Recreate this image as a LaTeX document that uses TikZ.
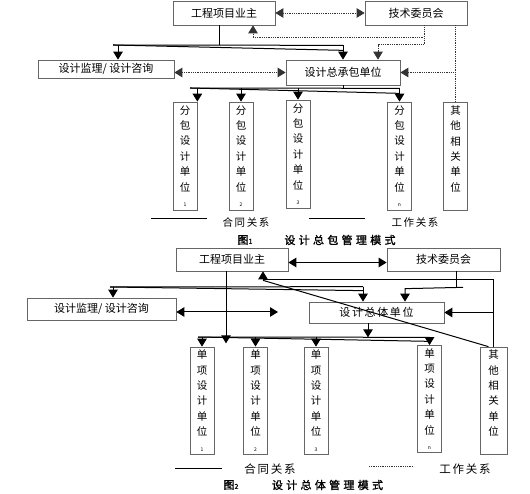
\documentclass[tikz,border=0pt]{standalone}
\usepackage{fontspec}
\setmainfont{Noto Sans CJK SC}
\newfontfamily\capfont[LetterSpace=30,FakeBold=1.5]{Noto Sans CJK SC}
\newfontfamily\legfont[LetterSpace=15]{Noto Sans CJK SC}
\usetikzlibrary{arrows.meta,calc}

\begin{document}
\begin{tikzpicture}[
  x=1pt, y=-1pt,
  >={Triangle[length=8pt,width=9.5pt]},
  box/.style={draw=black!60, line width=0.7pt, inner sep=0pt,
              font=\fontsize{11}{13}\selectfont},
  vbox/.style={draw=black!60, line width=0.7pt, inner sep=0pt, align=center,
               minimum width=24pt, minimum height=108pt,
               font=\fontsize{10.5}{15.4}\selectfont},
  ln/.style={line width=1pt},
  ar/.style={ln, ->},
  ar2/.style={ln, <->},
  dl/.style={line width=0.8pt, draw=black!80, dash pattern=on 1pt off 0.8pt},
  dar/.style={dl, ->},
  dar2/.style={dl, <->},
  legtxt/.style={font=\legfont\fontsize{10.5}{12}\selectfont},
  captxt/.style={font=\capfont\fontsize{11}{13}\selectfont},
]
\useasboundingbox (0,0) rectangle (530,494);

%% ---------- figure 1 ----------
\node[box, minimum width=102pt, minimum height=24pt] (owner1) at (224,13) {工程项目业主};
\node[box, minimum width=102pt, minimum height=24pt] (tech1) at (416,13) {技术委员会};
\node[box, minimum width=136pt, minimum height=18pt] (sup1) at (106,69) {设计监理/ 设计咨询};
\node[box, minimum width=114pt, minimum height=25pt] (gc1) at (343,72.5) {设计总承包单位};

\node[vbox] (sub11) at (185,156) {分\\包\\设\\计\\单\\位\\{\tiny 1}};
\node[vbox] (sub12) at (241,156) {分\\包\\设\\计\\单\\位\\{\tiny 2}};
\node[vbox] (sub13) at (298,154) {分\\包\\设\\计\\单\\位\\{\tiny 3}};
\node[vbox] (sub1n) at (399.5,156) {分\\包\\设\\计\\单\\位\\{\tiny n}};
\node[vbox] (oth1) at (455.5,156) {其\\他\\相\\关\\单\\位\\{\tiny\phantom{1}}};

% dotted links
\draw[dar2] (owner1.east) -- (tech1.west);
\coordinate (t1a) at ($(tech1.south)+(8,0)$);
\draw[dar] (t1a) |- ($(owner1.south)+(29,12)$) -- ($(owner1.south)+(29,0)$);
\draw[dar] (t1a) |- ($(gc1.north)+(35,-15)$) -- ($(gc1.north)+(35,0)$);
\draw[dl] (oth1.north |- tech1.south) -- (oth1.north);
\draw[dar] (oth1.north |- gc1.east) -- (gc1.east);
\draw[dar2] (gc1.west -| sup1.east) -- (gc1.west);

% contract links
\coordinate (j1) at ($(owner1.south)+(-5,20)$);
\coordinate (b1l) at (113,45);
\coordinate (b1r) at (gc1.north |- j1);
\draw[ln] ($(owner1.south)+(-5,0)$) -- (j1);
\draw[ln] (b1l) -- (b1r);
\draw[ln] (b1l) -- ($(b1r)+(0,5)$);
\draw[ar] ($(sup1.north)+(12,-15)$) -- ($(sup1.north)+(12,0)$);
\draw[ar] (b1r) -- (gc1.north);

\coordinate (j2) at ($(gc1.south)+(0,3)$);
\coordinate (b2l) at (190,88);
\coordinate (b2r) at (sub1n.north |- j2);
\draw[ln] (gc1.south) -- (j2);
\draw[ln] (b2l) -- (b2r);
\draw[ln] (b2l) -- ($(b2r)+(0,5)$);
\draw[ar] (sub11.north east |- j2) -- (sub11.north east);
\draw[ar] (sub12.north |- j2) -- (sub12.north);
\draw[ar] (sub13.north |- j2) -- (sub13.north);
\draw[ar] (b2r) -- (sub1n.north);

% legend and caption
\draw[ln] (151,219) -- (207,219);
\node[legtxt] (l1a) at (246,223) {合同关系};
\draw[ln] (309,219) -- (365,219);
\node[legtxt] (l1b) at (415,223) {工作关系};
\node[captxt] (c1a) at (245,240) {图{\fontsize{7}{8}\selectfont 1}};
\node[captxt] (c1b) at (340,240) {设计总包管理模式};

%% ---------- figure 2 ----------
\node[box, minimum width=112pt, minimum height=23pt] (owner2) at (232,259.5) {工程项目业主};
\node[box, minimum width=113pt, minimum height=23pt] (tech2) at (443.5,259.5) {技术委员会};
\node[box, minimum width=149pt, minimum height=22pt] (sup2) at (101.5,309) {设计监理/ 设计咨询};
\node[box, minimum width=135pt, minimum height=21pt] (gb2) at (376.5,312.5) {\legfont 设计总体单位};

\node[vbox, minimum height=107pt] (dx1) at (202,400.5) {单\\项\\设\\计\\单\\位\\{\tiny 1}};
\node[vbox, minimum height=107pt] (dx2) at (255.5,400.5) {单\\项\\设\\计\\单\\位\\{\tiny 2}};
\node[vbox, minimum height=107pt] (dx3) at (316,400.5) {单\\项\\设\\计\\单\\位\\{\tiny 3}};
\node[vbox, minimum height=107pt] (dxn) at (429.5,399) {单\\项\\设\\计\\单\\位\\{\tiny n}};
\node[vbox, minimum height=107pt, minimum width=27pt] (oth2) at (493.5,400.5) {其\\他\\相\\关\\单\\位\\{\tiny\phantom{1}}};

\draw[ar2] ($(owner2.east)+(0,3)$) -- ($(tech2.west)+(0,3)$);
\coordinate (f2) at (278,312);
\draw[ar2] (sup2.east |- f2) -- (f2);

\coordinate (j3) at ($(owner2.south)+(-6,72)$);
\draw[ar] ($(owner2.south)+(-6,0)$) -- (j3);
\coordinate (b3l) at (110,287);
\coordinate (b3r) at ($(gb2.north)+(-13.5,-15)$);
\draw[ln] (b3l) -- (b3r);
\draw[ln] (b3l) -- ($(b3r)+(0,4)$);
\draw[ar] ($(sup2.north)+(11.5,-11)$) -- ($(sup2.north)+(11.5,0)$);
\draw[ar] (b3r) -- ($(gb2.north)+(-13.5,0)$);

\coordinate (t2a) at ($(tech2.south)+(12.5,0)$);
\draw[ln] (t2a) -- ++(0,16);
\draw[ar] ($(tech2.south)+(19.5,16)$) -- ($(gb2.north)+(28.5,-13)$) -- ($(gb2.north)+(28.5,0)$);

\coordinate (o2a) at ($(owner2.south)+(31,8)$);
\draw[ar] (oth2.north) |- (o2a) -- ($(owner2.south)+(31,0)$);
\draw[ar] (oth2.north |- gb2.east) -- (gb2.east);
\draw[ln] ($(o2a)+(0,1)$) -- ($(oth2.north)+(-5,0)$);

\coordinate (b4) at ($(gb2.south)+(-8.5,14)$);
\coordinate (b4l) at (198,337);
\coordinate (b4r) at (dxn.north |- b4);
\draw[ar] ($(gb2.south)+(-8.5,0)$) -- (b4);
\draw[ln] (b4l) -- (b4r);
\draw[ln] (b4l) -- ($(b4r)+(0,4)$);
\draw[ar] (dx1.north |- b4) -- (dx1.north);
\draw[ar] (dx2.north |- b4) -- (dx2.north);
\draw[ar] (dx3.north |- b4) -- (dx3.north);
\draw[ar] (b4r) -- (dxn.north);

\draw[ln] (175,468) -- (222,468);
\node[legtxt, font=\legfont\fontsize{11.5}{13}\selectfont] (l2a) at (270,469) {合同关系};
\draw[dl] (369,466) -- (414,466);
\node[legtxt, font=\legfont\fontsize{11.5}{13}\selectfont] (l2b) at (465,469) {工作关系};
\node[captxt] (c2a) at (231,485) {图{\fontsize{7}{8}\selectfont 2}};
\node[captxt] (c2b) at (327.5,485) {设计总体管理模式};

\end{tikzpicture}
\end{document}
